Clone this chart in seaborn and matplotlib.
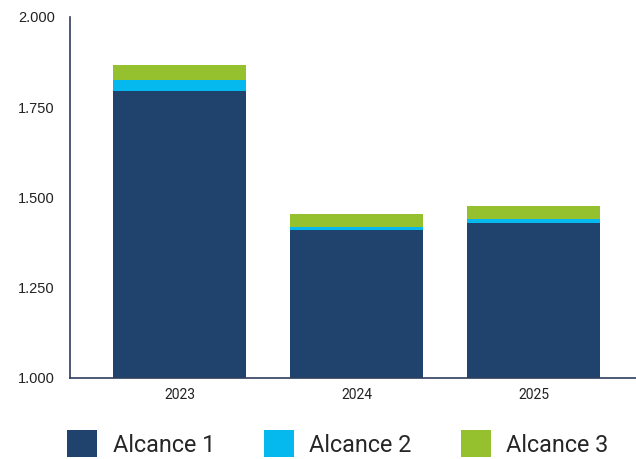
import pandas as pd
import seaborn as sns
import matplotlib.pyplot as plt
from matplotlib.patches import Patch
from matplotlib.ticker import FuncFormatter

# Data
years = ["2023", "2024", "2025"]
alcance_1 = [1795, 1410, 1429]
alcance_2 = [30, 8, 12]
alcance_3 = [42, 36, 35]
series_names = ["Alcance 1", "Alcance 2", "Alcance 3"]
colors = ["#1F436C", "#05B9EF", "#95C12F"]

df = pd.DataFrame({"year": years, "a1": alcance_1, "a2": alcance_2, "a3": alcance_3})
df["cum1"] = df["a1"]
df["cum2"] = df["a1"] + df["a2"]
df["cum3"] = df["cum2"] + df["a3"]

sns.set_theme(style="white")
fig = plt.figure(figsize=(6.36, 4.59), dpi=100)
ax = fig.add_axes([0.110, 0.1765, 0.89, 0.7865])

# stacked look: draw cumulative totals from back to front
for col, c in zip(["cum3", "cum2", "cum1"], colors[::-1]):
    sns.barplot(data=df, x="year", y=col, color=c, width=0.75,
                saturation=1, linewidth=0, ax=ax)

ax.set_ylim(1000, 2000)
ax.set_xlim(-0.62, 2.58)
ax.set_yticks([1000, 1250, 1500, 1750, 2000])
ax.yaxis.set_major_formatter(FuncFormatter(lambda v, p: f"{v:,.0f}".replace(",", ".")))
ax.set_xlabel("")
ax.set_ylabel("")

spine_col = "#2E3F5C"
for s in ["top", "right"]:
    ax.spines[s].set_visible(False)
for s in ["left", "bottom"]:
    ax.spines[s].set_color(spine_col)
    ax.spines[s].set_linewidth(1.2)

ax.tick_params(axis="y", direction="in", length=7, width=1.2, color=spine_col,
               pad=11, labelsize=10.5, labelcolor="#222222")
ax.tick_params(axis="x", length=0, pad=7, labelsize=10, labelcolor="#222222")
for lab in ax.get_yticklabels():
    lab.set_fontfamily("Liberation Sans")
for lab in ax.get_xticklabels():
    lab.set_fontfamily("Roboto")

handles = [Patch(facecolor=c, edgecolor="none", label=n) for c, n in zip(colors, series_names)]
fig.legend(handles=handles, loc="center", bbox_to_anchor=(0.531, 0.033), ncol=3,
           frameon=False, prop={"family": "Roboto", "size": 16.8},
           handlelength=1.3, handleheight=1.4, handletextpad=0.65,
           columnspacing=2.1, borderaxespad=0, borderpad=0)

plt.savefig("out.png", dpi=100)
